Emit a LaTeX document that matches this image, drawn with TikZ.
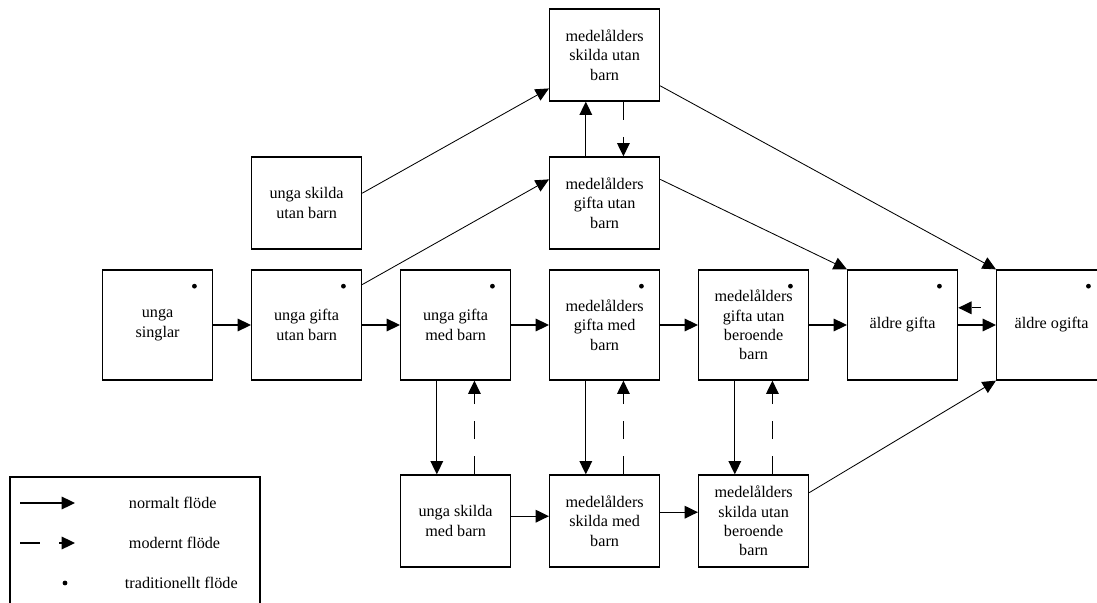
\documentclass[tikz,border=0pt]{standalone}
\usepackage{fontspec}
\setmainfont{Liberation Serif}
\usepackage{tikz}
\usetikzlibrary{arrows.meta,positioning,calc}

\begin{document}
\begin{tikzpicture}[>={Triangle[length=9.5pt,width=9pt]}, every node/.style={font=\fontsize{11.5}{13.8}\selectfont}, node distance=3.725cm, box/.style={draw, line width=0.9pt, align=center, minimum width=2.75cm, inner sep=1pt}, big/.style={box, minimum height=2.75cm}, small/.style={box, minimum height=2.3cm}, post/.style={->, line width=0.9pt}, slant/.style={->, line width=0.6pt}, modern/.style={post, dash pattern=on 13pt off 12pt}]

	\useasboundingbox (0,0) rectangle (27.425,-15.075);

	% main row
	\node [big] (US) at (3.94,-8.125) {unga\\singlar};
	\node [big] (UGU) [right of=US] {unga gifta\\utan barn};
	\node [big] (UGM) [right of=UGU] {unga gifta\\med barn};
	\node [big] (MGM) [right of=UGM] {medelålders\\gifta med\\barn};
	\node [big] (MGUB) [right of=MGM] {medelålders\\gifta utan\\beroende\\barn};
	\node [big] (AG) [right of=MGUB] {äldre gifta};
	\node [big] (AO) [right of=AG] {äldre ogifta};

	% rows above
	\node [small] (USU) [above of=UGU, node distance=3.05cm] {unga skilda\\utan barn};
	\node [small] (MGU) [above of=MGM, node distance=3.05cm] {medelålders\\gifta utan\\barn};
	\node [small] (MSU) [above of=MGU, node distance=3.7cm] {medelålders\\skilda utan\\barn};

	% row below
	\node [small] (USM) [below of=UGM, node distance=4.9cm] {unga skilda\\med barn};
	\node [small] (MSM) [below of=MGM, node distance=4.9cm] {medelålders\\skilda med\\barn};
	\node [small] (MSUB) [below of=MGUB, node distance=4.9cm] {medelålders\\skilda utan\\beroende\\barn};

	\foreach \n in {US,UGU,UGM,MGM,MGUB,AG,AO}
		\fill ($(\n.north east)+(-0.47,-0.42)$) circle (1.7pt);

	\foreach \a/\b in {US/UGU, UGU/UGM, UGM/MGM, MGM/MGUB, MGUB/AG, AG/AO}
		\draw[post] (\a) -- (\b);
	\draw[post, dash pattern=on 6pt off 11pt, dash phase=6pt] ([yshift=0.43cm]AO.west) -- ([yshift=0.43cm]AG.east);

	\foreach \a/\b in {UGM/USM, MGM/MSM, MGUB/MSUB} {
		\draw[post] ([xshift=-0.47cm]\a.south) -- ([xshift=-0.47cm]\b.north);
		\draw[modern] ([xshift=0.47cm]\b.north) -- ([xshift=0.47cm]\a.south);
	}
	\draw[post] ([xshift=-0.47cm]MGU.north) -- ([xshift=-0.47cm]MSU.south);
	\draw[modern] ([xshift=0.47cm]MSU.south) -- ([xshift=0.47cm]MGU.north);

	\draw[post] ([yshift=0.12cm]USM.east) -- ([yshift=0.12cm]USM.east -| MSM.west);
	\draw[post] ([yshift=0.22cm]MSM.east) -- ([yshift=0.22cm]MSM.east -| MSUB.west);

	\draw[slant] (UGU.36) -- (MGU.157);
	\draw[slant] (USU.10) -- (MSU.211);
	\draw[slant] (MSU.-29) -- (AO.north west);
	\draw[slant] (MGU.23) -- (AG.north west);
	\draw[slant] (MSUB.27) -- (AO.south west);

	% legend
	\draw[line width=0.9pt] (0.25,-11.925) rectangle (6.5,-15.6);
	\coordinate (N1) at (0.5,-12.575);
	\coordinate (N2) at (1.875,-12.575);
	\coordinate (M1) at (0.5,-13.575);
	\coordinate (M2) at (1.875,-13.575);
	\coordinate (T) at (1.625,-14.575);
	\draw[post] (N1) -- (N2);
	\draw[post, dash pattern=on 14pt off 14pt] (M1) -- (M2);
	\fill (T) circle (1.7pt);
	\node [anchor=west] (NT) at (3.1,-12.575) {normalt flöde};
	\node [anchor=west] (MT) at (3.1,-13.575) {modernt flöde};
	\node [anchor=west] (TT) at (3.0,-14.575) {traditionellt flöde};

\end{tikzpicture}
\end{document}
